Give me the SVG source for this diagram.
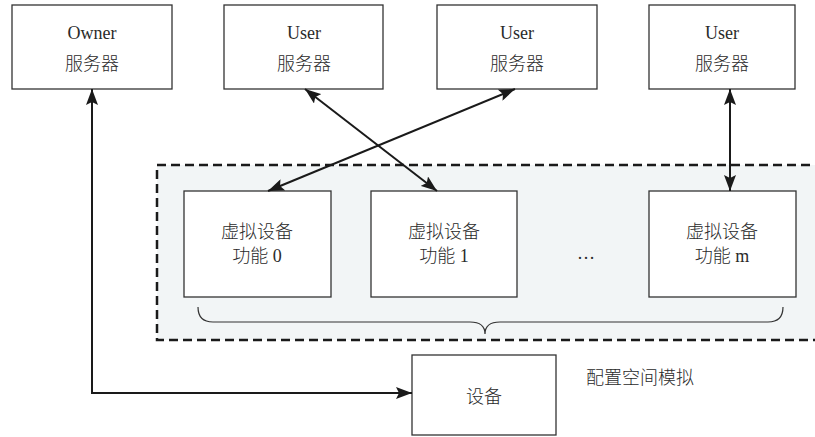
<svg xmlns="http://www.w3.org/2000/svg" width="815" height="437" viewBox="0 0 815 437">
<defs>
<style>
.box{fill:#fff;stroke:#333;stroke-width:1.3}
.t{font-family:"Liberation Serif","Noto Sans CJK SC",serif;font-size:18px;font-weight:300;fill:#2a2a2a;text-anchor:middle;dominant-baseline:central}
.c{fill:none;stroke:#1a1a1a;stroke-width:2}
</style>
<marker id="ah" viewBox="0 0 16 12" refX="16" refY="6" markerWidth="16" markerHeight="12" markerUnits="userSpaceOnUse" orient="auto-start-reverse">
<path d="M0,0 L16,6 L0,12 L3,6 Z" fill="#1a1a1a"/>
</marker>
</defs>
<rect width="815" height="437" fill="#fff"/>
<g id="container">
<rect x="157" y="165" width="665" height="175" fill="#f2f5f6" stroke="#1a1a1a" stroke-width="2.5" stroke-dasharray="9,5"/>
<path d="M198,307 Q198,322 213,322 L470,322 Q485,322 485,334 Q485,322 500,322 L768,322 Q783,322 783,307" fill="none" stroke="#333" stroke-width="1.2"/>
<text class="t" x="586" y="253">…</text>
<text class="t" x="640" y="378">配置空间模拟</text>
</g>
<g id="owner">
<rect class="box" x="12" y="5" width="160" height="84"/>
<text class="t" x="92" y="33">Owner</text>
<text class="t" x="92" y="64">服务器</text>
</g>
<g id="user1">
<rect class="box" x="224" y="5" width="159" height="84"/>
<text class="t" x="304" y="33">User</text>
<text class="t" x="304" y="64">服务器</text>
</g>
<g id="user2">
<rect class="box" x="437" y="5" width="160" height="84"/>
<text class="t" x="517" y="33">User</text>
<text class="t" x="517" y="64">服务器</text>
</g>
<g id="user3">
<rect class="box" x="649" y="5" width="146" height="84"/>
<text class="t" x="722" y="33">User</text>
<text class="t" x="722" y="64">服务器</text>
</g>
<g id="vdf0">
<rect class="box" x="184" y="191" width="147" height="106"/>
<text class="t" x="257" y="232">虚拟设备</text>
<text class="t" x="257" y="256">功能 0</text>
</g>
<g id="vdf1">
<rect class="box" x="371" y="191" width="146" height="106"/>
<text class="t" x="444" y="232">虚拟设备</text>
<text class="t" x="444" y="256">功能 1</text>
</g>
<g id="vdfm">
<rect class="box" x="649" y="191" width="147" height="106"/>
<text class="t" x="722" y="232">虚拟设备</text>
<text class="t" x="722" y="256">功能 m</text>
</g>
<g id="device">
<rect class="box" x="412" y="355" width="144" height="80"/>
<text class="t" x="484" y="397">设备</text>
</g>
<g id="connectors">
<path class="c" d="M412,393 L92,393 L92,89" marker-start="url(#ah)" marker-end="url(#ah)"/>
<path class="c" d="M305,89 L437,191" marker-start="url(#ah)" marker-end="url(#ah)"/>
<path class="c" d="M515,89 L268,191" marker-start="url(#ah)" marker-end="url(#ah)"/>
<path class="c" d="M730,89 L730,191" marker-start="url(#ah)" marker-end="url(#ah)"/>
</g>
</svg>
